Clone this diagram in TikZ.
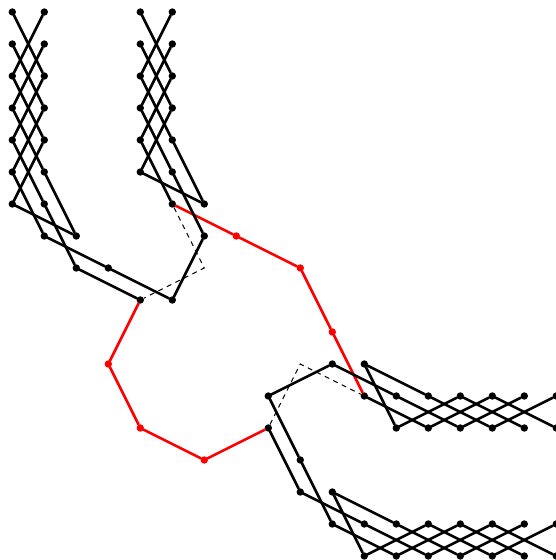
\documentclass[tikz,border=0pt]{standalone}
\tikzset{
  x=1pt,y=-1pt,
  dot/.style={circle,fill=black,draw=none,inner sep=0pt,minimum size=7.4pt},
  rdot/.style={dot,fill=red},
  strand/.style={draw=black,line width=2.6pt,line cap=round,line join=round},
  rstrand/.style={draw=red,line width=2.6pt,line cap=round},
  guide/.style={draw=black,line width=1pt,dash pattern=on 5pt off 4.5pt},
}
\newcommand{\chain}[2][strand]{%
  \def\first{1}%
  \foreach \a/\b [remember=\a as \pa, remember=\b as \pb] in {#2}{%
    \ifnum\first=0 \path[#1] (n\pa-\pb) -- (n\a-\b);\fi
    \global\def\first{0}%
  }%
}
\begin{document}
\begin{tikzpicture}
\useasboundingbox (0,0) rectangle (556,560);
% black dots
\foreach \p in {12,44,76,108,140,172}{\node[dot] (n12-\p) at (12.3,\p) {};\node[dot] (n140-\p) at (140.3,\p) {};}
\node[dot] (n12-204) at (12.3,204) {};
\foreach \p in {12,44,76,108,140,172,204}{\node[dot] (n44-\p) at (44.3,\p) {};\node[dot] (n172-\p) at (172.3,\p) {};}
\foreach \a/\b in {44/236,76/236,76/268,108/268,140/300,172/300,204/204,204/236,
  268/396,268/428,300/460,300/492,332/364,332/492,332/524,364/364,364/396,364/524,364/556}{
  \node[dot] (n\a-\b) at (\a+0.3,\b) {};}
\foreach \a in {396,428,460,492,524,556}{
  \node[dot] (n\a-396) at (\a+0.3,396) {};\node[dot] (n\a-428) at (\a+0.3,428) {};
  \node[dot] (n\a-524) at (\a+0.3,524) {};\node[dot] (n\a-556) at (\a+0.3,556) {};}
% red dots
\foreach \a/\b in {236/236,300/268,332/332,108/364,140/428,204/460}{
  \node[rdot] (n\a-\b) at (\a+0.3,\b) {};}
% dashed guides
\coordinate (g1) at (204.3,268);
\coordinate (g2) at (300.3,364);
\draw[guide] (n172-204) -- (g1) -- (n140-300);
\draw[guide] (n268-428) -- (g2) -- (n364-396);
% red arcs
\chain[rstrand]{172/204,236/236,300/268,332/332,364/396}
\chain[rstrand]{140/300,108/364,140/428,204/460,268/428}
% upper-left braid
\chain{44/12,12/76,44/140,12/204,76/236,44/172,12/108,44/44}
\chain{12/12,44/76,12/140,44/204,76/268,140/300}
\chain{44/108,12/44}
\chain{12/172,44/108}
\chain{12/172,44/236,108/268,172/300,204/236,172/172,140/108,172/44}
% upper-middle braid
\chain{172/12,140/76,172/140,204/204,140/172,172/108,140/44}
\chain{140/12,172/76,140/140,172/204}
% right upper braid
\chain{268/428,300/492,364/524,428/556,492/524,556/556}
\chain{268/396,300/460,332/524,396/556,460/524,524/556}
\chain{268/396,332/364,396/396,460/428,524/396}
\chain{364/396,428/428,492/396,556/428}
\chain{396/428,364/364,428/396,492/428,556/396}
\chain{396/428,460/396,524/428}
% right lower braid
\chain{364/556,332/492,396/524,460/556,524/524}
\chain{364/556,428/524,492/556,556/524}
\end{tikzpicture}
\end{document}
